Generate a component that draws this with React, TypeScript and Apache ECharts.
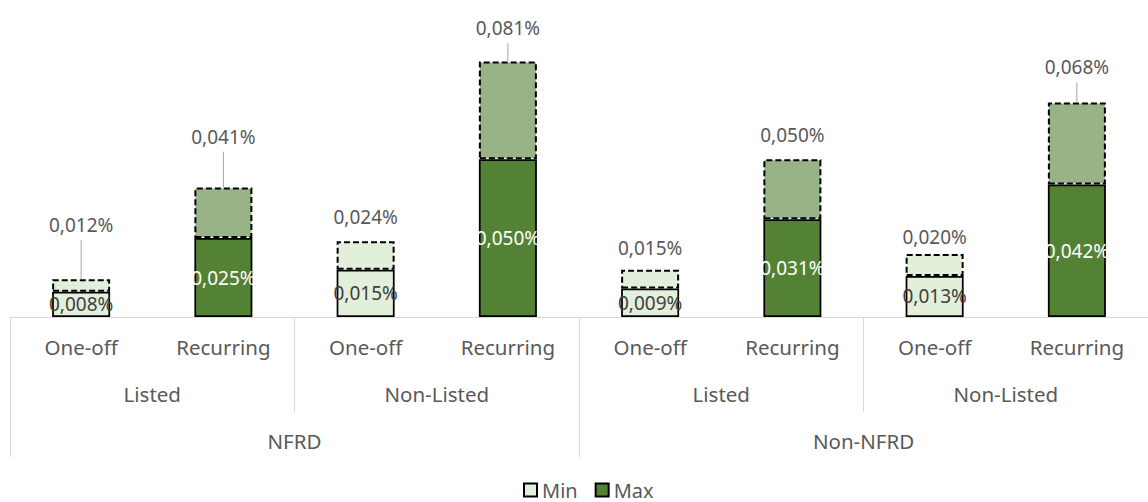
import React, { useEffect, useRef } from 'react';
import * as echarts from 'echarts';

// ---- Data ----
const typeLabels = ['One-off', 'Recurring', 'One-off', 'Recurring', 'One-off', 'Recurring', 'One-off', 'Recurring'];
const listingLabels = ['Listed', 'Non-Listed', 'Listed', 'Non-Listed'];
const groupLabels = ['NFRD', 'Non-NFRD'];
const minValues = [0.008, 0.025, 0.015, 0.050, 0.009, 0.031, 0.013, 0.042];
const maxValues = [0.012, 0.041, 0.024, 0.081, 0.015, 0.050, 0.020, 0.068];

// ---- Styling (positions of the top labels above their bars, px) ----
const labelOffsets = [54, 51, 24, 33, 22, 24, 17, 35];
const FONT = '"Noto Sans", sans-serif';
const LIGHT = '#E2EFDA';
const DARK = '#548235';
const MID = '#98B486';
const TEXT = '#595959';

const fmt = (v: number) => v.toFixed(3).replace('.', ',') + '%';

export default function App() {
  const ref = useRef<HTMLDivElement>(null);

  useEffect(() => {
    if (!ref.current) return;
    const chart = echarts.init(ref.current, undefined, { renderer: 'svg' });

    const isOneOff = (i: number) => typeLabels[i] === 'One-off';

    const option: any = {
      animation: false,
      grid: { left: 10, right: -13, top: 33, bottom: 185, containLabel: false },
      xAxis: [
        {
          type: 'category',
          data: typeLabels,
          position: 'bottom',
          z: 10,
          axisLine: { show: true, lineStyle: { color: '#D9D9D9', width: 1 } },
          axisTick: { show: false },
          axisLabel: { interval: 0, margin: 19, fontSize: 20.5, fontFamily: FONT, color: TEXT },
        },
        {
          type: 'category',
          data: listingLabels,
          position: 'bottom',
          axisLine: { show: false },
          axisTick: { show: true, interval: 0, length: 95, lineStyle: { color: '#D9D9D9', width: 1 } },
          axisLabel: { interval: 0, margin: 66, fontSize: 20.5, fontFamily: FONT, color: TEXT },
        },
        {
          type: 'category',
          data: groupLabels,
          position: 'bottom',
          axisLine: { show: false },
          axisTick: { show: true, interval: 0, length: 140, lineStyle: { color: '#D9D9D9', width: 1 } },
          axisLabel: { interval: 0, margin: 113, fontSize: 20.5, fontFamily: FONT, color: TEXT },
        },
      ],
      yAxis: { type: 'value', min: 0, max: 0.09, show: false },
      legend: {
        data: [
          { name: 'Min', itemStyle: { color: LIGHT, borderColor: '#000', borderWidth: 2, borderType: 'solid' } },
          { name: 'Max', itemStyle: { color: DARK, borderColor: '#000', borderWidth: 2, borderType: 'solid' } },
        ],
        icon: 'rect',
        left: 523,
        top: 478,
        padding: 0,
        itemWidth: 13,
        itemHeight: 13,
        itemGap: 17,
        selectedMode: false,
        textStyle: { fontSize: 20, fontFamily: FONT, color: TEXT, lineHeight: 24 },
      },
      series: [
        {
          name: 'Min',
          type: 'bar',
          stack: 'total',
          xAxisIndex: 0,
          barWidth: 58,
          itemStyle: { color: LIGHT, borderColor: '#000', borderWidth: 1.75 },
          label: {
            show: true,
            position: 'inside',
            fontSize: 19,
            fontFamily: FONT,
            formatter: (p: any) => fmt(minValues[p.dataIndex]),
          },
          data: minValues.map((v, i) => ({
            value: v,
            itemStyle: { color: isOneOff(i) ? LIGHT : DARK },
            label: { color: isOneOff(i) ? '#404040' : '#FFFFFF' },
          })),
        },
        {
          name: 'Max',
          type: 'bar',
          stack: 'total',
          xAxisIndex: 0,
          barWidth: 58,
          itemStyle: { color: DARK, borderColor: '#000', borderWidth: 2, borderType: [6, 3] },
          label: { show: false },
          data: maxValues.map((v, i) => ({
            value: +(v - minValues[i]).toFixed(6),
            itemStyle: { color: isOneOff(i) ? LIGHT : MID },
          })),
        },
        {
          name: 'totals',
          type: 'custom',
          xAxisIndex: 0,
          yAxisIndex: 0,
          silent: true,
          z: 5,
          data: maxValues.map((v, i) => [i, v]),
          renderItem: (params: any, api: any) => {
            const p = api.coord([api.value(0), api.value(1)]);
            const off = labelOffsets[params.dataIndex];
            const children: any[] = [
              {
                type: 'text',
                x: p[0],
                y: p[1] - off,
                style: {
                  text: fmt(api.value(1)),
                  align: 'center',
                  verticalAlign: 'middle',
                  fill: TEXT,
                  fontSize: 19,
                  fontFamily: FONT,
                },
              },
            ];
            if (off > 30) {
              children.push({
                type: 'line',
                shape: { x1: p[0], y1: p[1] - off + 15, x2: p[0], y2: p[1] },
                style: { stroke: '#A6A6A6', lineWidth: 1 },
              });
            }
            return { type: 'group', children };
          },
        },
      ],
    };

    chart.setOption(option);
    return () => chart.dispose();
  }, []);

  return (
    <div
      ref={ref}
      style={{ position: 'fixed', left: 0, top: 0, width: 1148, height: 502, background: '#fff' }}
    />
  );
}
